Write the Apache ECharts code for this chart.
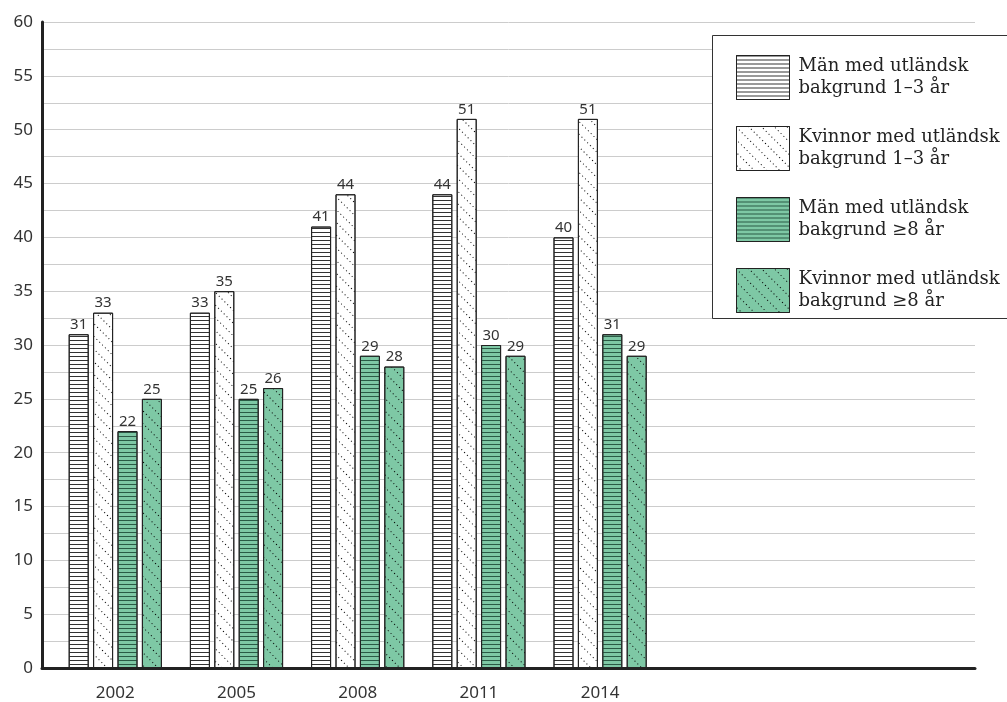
<!DOCTYPE html>
<html><head><meta charset="utf-8">
<script src="https://cdn.jsdelivr.net/npm/echarts@6/dist/echarts.min.js"></script>
<style>html,body{margin:0;padding:0;background:#fff}#c{width:1007px;height:702px}</style>
</head><body><div id="c"></div>
<script>
var years = ['2002','2005','2008','2011','2014'];
var seriesNames = ['Män med utländsk\nbakgrund 1–3 år','Kvinnor med utländsk\nbakgrund 1–3 år','Män med utländsk\nbakgrund ≥8 år','Kvinnor med utländsk\nbakgrund ≥8 år'];
var menShort = [31,33,41,44,40];
var womenShort = [33,35,44,51,51];
var menLong = [22,25,29,30,31];
var womenLong = [25,26,28,29,29];
var yMin = 0, yMax = 60, yStep = 2.5, yLabelStep = 5;

var green = '#7ec8a5';
var hLines = function(c){return {symbol:'rect',symbolSize:1,dashArrayX:[1,0],dashArrayY:[1,3],rotation:0,color:c};};
var dLines = function(c){return {symbol:'rect',symbolSize:1,dashArrayX:[1,3],dashArrayY:[1,8],rotation:Math.PI/4,color:c};};
var styles = [
  {color:'#ffffff',decal:hLines('#333')},
  {color:'#ffffff',decal:dLines('#000')},
  {color:green,decal:hLines('#2a5a45')},
  {color:green,decal:dLines('#000')}
];
var values = [menShort,womenShort,menLong,womenLong];
var font = 'Noto Sans';

var chart = echarts.init(document.getElementById('c'));
var series = values.map(function(v,i){
  return {
    name: seriesNames[i], type:'bar', xAxisIndex:1, yAxisIndex:1, data:v,
    barWidth:20, barGap:'22%',
    itemStyle:{color:styles[i].color, decal:styles[i].decal, borderColor:'#222', borderWidth:1},
    label:{show:true, position:'top', distance:2, color:'#333', fontFamily:font, fontSize:15},
    z:3
  };
});
chart.setOption({
  animation:false,
  aria:{enabled:false},
  grid:[
    {left:42, right:32, top:22, bottom:34},
    {left:54.7, width:606, top:22, bottom:34}
  ],
  xAxis:[
    {gridIndex:0, type:'value', min:0, max:1, axisLabel:{show:false}, axisTick:{show:false}, splitLine:{show:false},
     axisLine:{show:true, lineStyle:{color:'#222', width:3}}},
    {gridIndex:1, type:'category', data:years, axisLine:{show:false}, axisTick:{show:false},
     axisLabel:{color:'#333', fontFamily:font, fontSize:17, margin:17}}
  ],
  yAxis:[
    {gridIndex:0, type:'value', min:yMin, max:yMax, interval:yStep,
     axisLine:{show:true, lineStyle:{color:'#222', width:3}}, axisTick:{show:false},
     splitLine:{show:true, lineStyle:{color:'#cccccc', width:1}},
     axisLabel:{color:'#333', fontFamily:font, fontSize:17, margin:9,
       formatter:function(v){return (v % yLabelStep === 0) ? String(v) : '';}}},
    {gridIndex:1, type:'value', min:yMin, max:yMax, show:false}
  ],
  legend:{
    orient:'vertical', left:731, top:50, itemWidth:53, itemHeight:44, itemGap:26,
    icon:'rect', z:20,
    itemStyle:{borderWidth:1},
    textStyle:{fontFamily:'DejaVu Serif', fontSize:18, color:'#222', lineHeight:22, padding:[0,0,0,4]},
    data:seriesNames
  },
  graphic:[
    {type:'rect', z:10, shape:{x:712.5, y:35.5, width:310, height:283},
     style:{fill:'#fff', stroke:'#333', lineWidth:1}}
  ],
  series:series
});
</script></body></html>
